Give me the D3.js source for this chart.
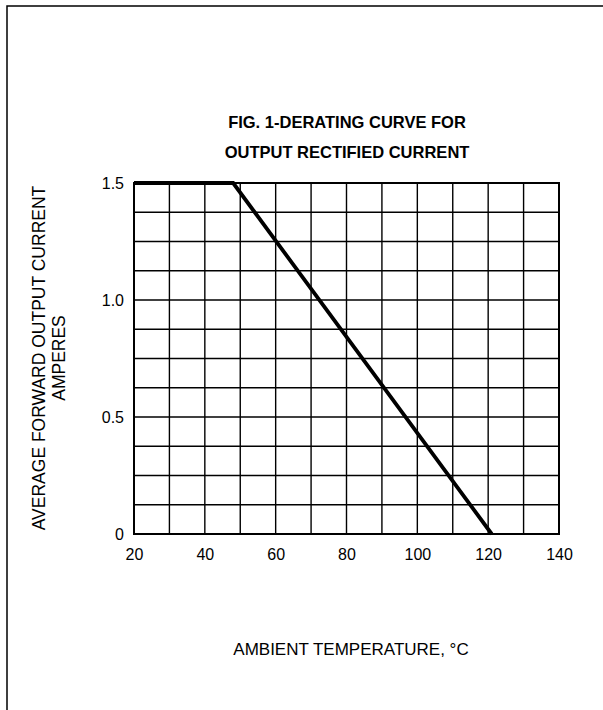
<!DOCTYPE html>
<html>
<head>
<meta charset="utf-8">
<script src="https://cdn.jsdelivr.net/npm/d3@7"></script>
<style>
  body { margin: 0; background: #fff; }
  text { font-family: "Liberation Sans", Arial, sans-serif; fill: #000; }
</style>
</head>
<body>
<script>
//Chart data
var curveTemp = [20, 48, 121];
var curveAmps = [1.5, 1.5, 0];
var xTicks = [20, 40, 60, 80, 100, 120, 140];
var yTicks = [0, 0.5, 1.0, 1.5];
var xGrid = d3.range(20, 141, 10);
var yGrid = d3.range(0, 1.501, 0.125);
var titleLines = ["FIG. 1-DERATING CURVE FOR", "OUTPUT RECTIFIED CURRENT"];
var yTitleLines = ["AVERAGE FORWARD OUTPUT CURRENT", "AMPERES"];

var width = 603,
    height = 710;

var svg = d3.select("body").append("svg")
    .attr("width", width)
    .attr("height", height);

//outer frame (only top and left edges show)
svg.append("path")
    .attr("d", "M7,710 L7,6 L603,6")
    .attr("fill", "none")
    .attr("stroke", "#000")
    .attr("stroke-width", 1.5);

//plot area
var x = d3.scaleLinear().domain([20, 140]).range([134, 559]);
var y = d3.scaleLinear().domain([0, 1.5]).range([534, 183]);

var grid = svg.append("g").attr("class", "grid");

grid.selectAll("line.v")
    .data(xGrid)
    .enter().append("line")
    .attr("class", "v")
    .attr("x1", d => x(d)).attr("x2", d => x(d))
    .attr("y1", y(0)).attr("y2", y(1.5))
    .attr("stroke", "#000").attr("stroke-width", 1.4);

grid.selectAll("line.h")
    .data(yGrid)
    .enter().append("line")
    .attr("class", "h")
    .attr("x1", x(20)).attr("x2", x(140))
    .attr("y1", d => y(d)).attr("y2", d => y(d))
    .attr("stroke", "#000").attr("stroke-width", 1.4);

//frame border a bit heavier
svg.append("rect")
    .attr("x", x(20)).attr("y", y(1.5))
    .attr("width", x(140) - x(20)).attr("height", y(0) - y(1.5))
    .attr("fill", "none").attr("stroke", "#000").attr("stroke-width", 2);

//axes, labels only
var xAxis = svg.append("g")
    .attr("transform", "translate(0," + y(0) + ")")
    .call(d3.axisBottom(x).tickValues(xTicks).tickSize(0).tickPadding(15).tickFormat(d3.format("d")));
var yAxis = svg.append("g")
    .attr("transform", "translate(" + x(20) + ",0)")
    .call(d3.axisLeft(y).tickValues(yTicks).tickSize(0).tickPadding(10)
      .tickFormat(d => d === 0 ? "0" : d3.format(".1f")(d)));
[xAxis, yAxis].forEach(function(a) {
  a.select(".domain").remove();
  a.selectAll("text")
    .attr("font-family", "Liberation Sans, Arial, sans-serif")
    .attr("font-size", 16)
    .attr("fill", "#000");
});

//derating curve
var line = d3.line().x((d, i) => x(curveTemp[i])).y((d, i) => y(curveAmps[i]));
svg.append("path")
    .datum(curveTemp)
    .attr("d", line)
    .attr("fill", "none")
    .attr("stroke", "#000")
    .attr("stroke-width", 3.8)
    .attr("stroke-linejoin", "miter");

//title
svg.selectAll("text.title")
    .data(titleLines)
    .enter().append("text")
    .attr("class", "title")
    .attr("x", 347)
    .attr("y", (d, i) => 128 + i * 30)
    .attr("text-anchor", "middle")
    .attr("font-size", 16.5)
    .attr("font-weight", "bold")
    .text(d => d);

//x title
svg.append("text")
    .attr("x", 351)
    .attr("y", 655)
    .attr("text-anchor", "middle")
    .attr("font-size", 17)
    .text("AMBIENT TEMPERATURE, \u00B0C");

//y title
svg.selectAll("text.ytitle")
    .data(yTitleLines)
    .enter().append("text")
    .attr("class", "ytitle")
    .attr("transform", (d, i) => "translate(" + (45 + i * 20) + ",358) rotate(-90)")
    .attr("text-anchor", "middle")
    .attr("font-size", 17.5)
    .text(d => d);
</script>
</body>
</html>
